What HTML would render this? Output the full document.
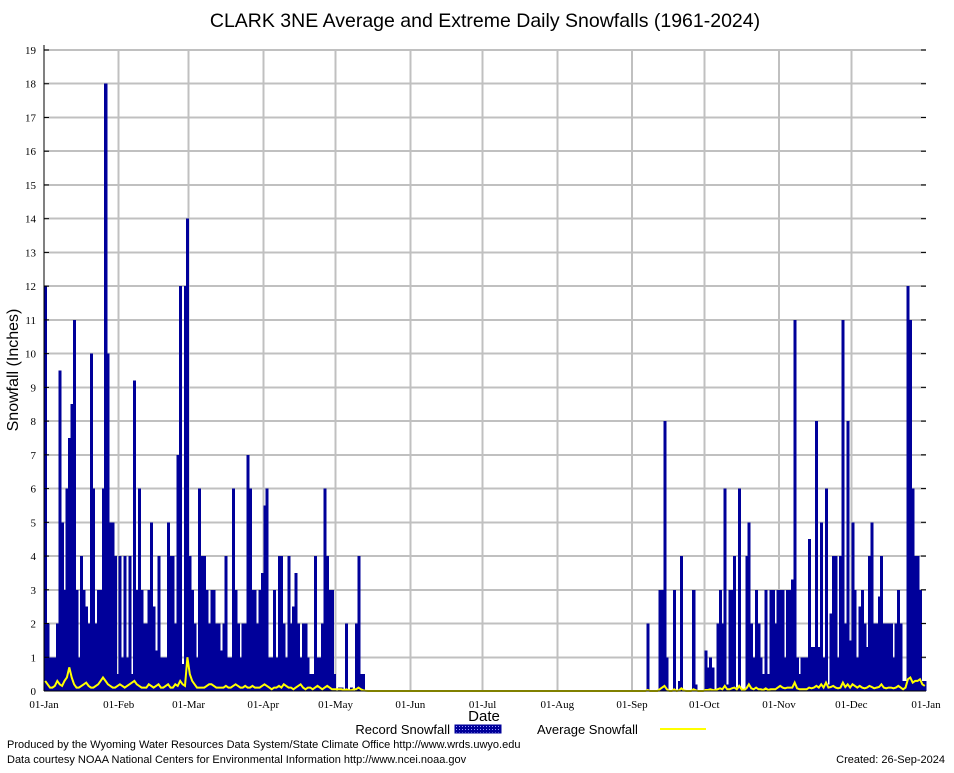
<!DOCTYPE html>
<html><head><meta charset="utf-8"><style>
body{margin:0;background:#fff;width:954px;height:768px;overflow:hidden;font-family:"Liberation Sans",sans-serif}
</style></head><body>
<svg id="chart" width="954" height="768" xmlns="http://www.w3.org/2000/svg" font-family="Liberation Sans, sans-serif">
<defs><pattern id="hatch" width="3" height="3" patternUnits="userSpaceOnUse"><rect width="3" height="3" fill="#00009a"/><rect width="1" height="1" fill="#9999ff"/></pattern></defs>
<text x="485" y="27" text-anchor="middle" font-size="19.5">CLARK 3NE Average and Extreme Daily Snowfalls (1961-2024)</text>
<g id="grid" shape-rendering="crispEdges"></g><g id="bars" shape-rendering="crispEdges"></g><g id="avg"></g><g id="axes"></g>
<text transform="translate(18,370) rotate(-90)" text-anchor="middle" font-size="16">Snowfall (Inches)</text>
<text x="484" y="721" text-anchor="middle" font-size="15">Date</text>
<g>
<text x="450" y="734" text-anchor="end" font-size="13">Record Snowfall</text>
<rect x="455" y="725" width="46" height="8" fill="url(#hatch)" stroke="#00009a"/>
<text x="537" y="734" font-size="13">Average Snowfall</text>
<line x1="660" y1="729" x2="706" y2="729" stroke="#ffff00" stroke-width="2"/>
</g>
<text x="7" y="748" font-size="11">Produced by the Wyoming Water Resources Data System/State Climate Office http://www.wrds.uwyo.edu</text>
<text x="7" y="763" font-size="11">Data courtesy NOAA National Centers for Environmental Information http://www.ncei.noaa.gov</text>
<text x="945" y="763" text-anchor="end" font-size="11">Created: 26-Sep-2024</text>
</svg>
<script>
const monthLabels=["01-Jan","01-Feb","01-Mar","01-Apr","01-May","01-Jun","01-Jul","01-Aug","01-Sep","01-Oct","01-Nov","01-Dec","01-Jan"];
const monthStarts=[0,31,60,91,121,152,182,213,244,274,305,335,366];
const yTicks=[0,1,2,3,4,5,6,7,8,9,10,11,12,13,14,15,16,17,18,19];
const recJan=[12,2,1,1,1,2,9.5,5,3,6,7.5,8.5,11,3,1,4,3,2.5,2,10,6,2,3,3,6,18,10,5,5,4,0.5];
const recFeb=[4,1,4,1,4,0.5,9.2,3,6,3,2,2,3,5,2.5,1.2,4,1,1,1,5,4,4,2,7,12,0.8,12,14];
const recMar=[4,3,2,1,6,4,4,3,2,3,3,2,2,1.2,2,4,1,1,6,3,2,1,2,2,7,6,3,3,2,3,3.5];
const recApr=[5.5,6,1,1,3,1,4,4,2,1,4,2,2.5,3.5,2,1,2,2,1,0.5,0.5,4,1,1,2,6,4,3,3,0.5];
const recMay=[0,0.1,0.1,0,2,0,0.1,0,2,4,0.5,0.5,0,0,0,0,0,0,0,0,0,0,0,0,0,0,0,0,0,0,0];
const recJun=[0,0,0,0,0,0,0,0,0,0,0,0,0,0,0,0,0,0,0,0,0,0,0,0,0,0,0,0,0,0];
const recJul=[0,0,0,0,0,0,0,0,0,0,0,0,0,0,0,0,0,0,0,0,0,0,0,0,0,0,0,0,0,0,0];
const recAug=[0,0,0,0,0,0,0,0,0,0,0,0,0,0,0,0,0,0,0,0,0,0,0,0,0,0,0,0,0,0,0];
const recSep=[0,0,0,0,0,0,2,0,0,0,0,3,3,8,1,0,0,3,0,0.3,4,0,0,0,0,3,0.2,0,0,0];
const recOct=[1.2,0.7,1,0.7,0,2,3,2,6,0.2,3,3,4,0.1,6,0,0,4,5,2,1,3,2,1,0.5,3,0.5,3,3,2,3];
const recNov=[3,3,1,3,3,3.3,11,1,0.5,1,1,1,4.5,1.3,1.3,8,1.3,5,1,6,0.2,2.3,4,4,1,4,11,2,8,1.5];
const recDec=[5,3,1,2.5,3,2,1.3,4,5,2,2,2.8,4,2,2,2,2,1,2,3,2,0.3,0.3,12,11,6,4,4,3,0.3,0.3];
const avgJan=[0.3,0.2,0.1,0.1,0.15,0.3,0.2,0.15,0.3,0.4,0.7,0.4,0.2,0.1,0.1,0.15,0.2,0.25,0.15,0.1,0.1,0.15,0.2,0.3,0.4,0.3,0.2,0.15,0.1,0.1,0.15];
const avgFeb=[0.2,0.15,0.1,0.15,0.2,0.25,0.3,0.2,0.15,0.1,0.1,0.1,0.2,0.15,0.1,0.15,0.2,0.1,0.1,0.15,0.2,0.1,0.1,0.2,0.15,0.3,0.2,0.15,1.0];
const avgMar=[0.5,0.3,0.2,0.1,0.1,0.1,0.1,0.15,0.2,0.2,0.15,0.1,0.1,0.1,0.1,0.15,0.1,0.1,0.15,0.2,0.15,0.1,0.1,0.15,0.1,0.1,0.15,0.1,0.1,0.1,0.15];
const avgApr=[0.2,0.15,0.1,0.05,0.1,0.1,0.15,0.1,0.2,0.15,0.1,0.1,0.05,0.1,0.15,0.2,0.1,0.05,0.1,0.1,0.05,0.1,0.15,0.1,0.05,0.1,0.15,0.1,0.05,0.05];
const avgMay=[0.05,0.05,0.05,0.02,0.05,0.02,0.02,0.05,0.05,0.1,0.05,0.02,0.01,0,0,0,0,0,0,0,0,0,0,0,0,0,0,0,0,0,0];
const avgJun=[0,0,0,0,0,0,0,0,0,0,0,0,0,0,0,0,0,0,0,0,0,0,0,0,0,0,0,0,0,0];
const avgJul=[0,0,0,0,0,0,0,0,0,0,0,0,0,0,0,0,0,0,0,0,0,0,0,0,0,0,0,0,0,0,0];
const avgAug=[0,0,0,0,0,0,0,0,0,0,0,0,0,0,0,0,0,0,0,0,0,0,0,0,0,0,0,0,0,0,0];
const avgSep=[0,0,0,0,0,0,0.03,0,0,0,0,0.05,0.1,0.15,0.05,0,0,0.05,0,0.02,0.08,0.02,0,0,0,0.05,0.02,0,0,0];
const avgOct=[0.03,0.03,0.05,0.03,0.02,0.05,0.08,0.05,0.15,0.05,0.05,0.08,0.1,0.05,0.15,0.05,0.03,0.08,0.2,0.08,0.05,0.1,0.05,0.05,0.03,0.08,0.03,0.05,0.05,0.05,0.1];
const avgNov=[0.15,0.1,0.08,0.1,0.1,0.1,0.25,0.08,0.05,0.05,0.05,0.05,0.1,0.08,0.1,0.15,0.1,0.2,0.1,0.25,0.1,0.12,0.15,0.1,0.08,0.1,0.25,0.12,0.2,0.1];
const avgDec=[0.2,0.15,0.1,0.15,0.1,0.08,0.1,0.15,0.12,0.08,0.1,0.12,0.2,0.1,0.08,0.1,0.1,0.08,0.1,0.15,0.1,0.05,0.1,0.35,0.4,0.25,0.3,0.3,0.35,0.2,0.15];
const record=[].concat(recJan,recFeb,recMar,recApr,recMay,recJun,recJul,recAug,recSep,recOct,recNov,recDec);
const average=[].concat(avgJan,avgFeb,avgMar,avgApr,avgMay,avgJun,avgJul,avgAug,avgSep,avgOct,avgNov,avgDec);
const NS="http://www.w3.org/2000/svg";
const X0=44,X1=926,Y0=691,Y1=50,NDAYS=366,YMAX=19;
const dw=(X1-X0)/NDAYS;
function xs(d){return X0+d*dw;}
function ys(v){return Y0-(v/YMAX)*(Y0-Y1);}
function mk(tag,attrs,parent){const e=document.createElementNS(NS,tag);for(const k in attrs)e.setAttribute(k,attrs[k]);parent.appendChild(e);return e;}
const grid=document.getElementById('grid'),bars=document.getElementById('bars'),avgG=document.getElementById('avg'),axes=document.getElementById('axes');
yTicks.forEach(t=>{
 const y=ys(t);
 if(t>0){const l=mk('line',{x1:X0,x2:X1,y1:y,y2:y,stroke:'#c0c0c0','stroke-width':2},grid);
 
 }
 mk('line',{x1:X0,x2:X0+5,y1:y,y2:y,stroke:'#000'},axes);
 mk('line',{x1:X1-5,x2:X1,y1:y,y2:y,stroke:'#000'},axes);
 const tx=mk('text',{x:36,y:y+4,'text-anchor':'end','font-size':11,'font-family':'Liberation Serif, serif'},axes);
 tx.textContent=t;
 
 
});
monthStarts.forEach((d,i)=>{
 const x=xs(d);
 if(i>0&&i<12){const l=mk('line',{x1:x,x2:x,y1:Y1,y2:Y0,stroke:'#c0c0c0','stroke-width':2},grid);
 
 }
 const tx=mk('text',{x:x,y:708,'text-anchor':'middle','font-size':11,'font-family':'Liberation Serif, serif'},axes);
 tx.textContent=monthLabels[i];
 
 
});
record.forEach((v,d)=>{
 if(v<=0)return;
 const r=mk('rect',{x:xs(d),y:ys(v),width:dw+0.6,height:Y0-ys(v),fill:'#00009a'},bars);
 
 
});
const pts=average.map((v,d)=>xs(d+0.5).toFixed(1)+','+ys(v).toFixed(1)).join(' ');
const pl=mk('polyline',{points:pts,fill:'none',stroke:'#ffff00','stroke-width':2},avgG);


const ax=mk('line',{x1:X0,x2:X0,y1:Y1-5,y2:Y0,stroke:'#000'},axes);


const bx=mk('line',{x1:X0,x2:X1,y1:Y0,y2:Y0,stroke:'#000'},axes);


</script>
</body></html>
